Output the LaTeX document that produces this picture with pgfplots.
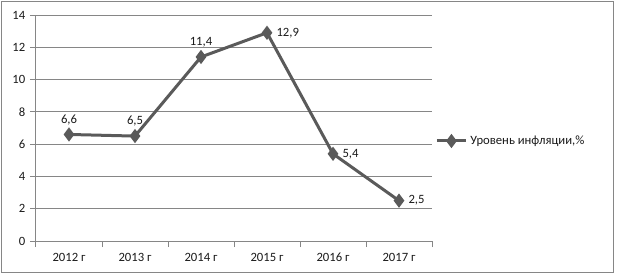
\documentclass[border=0pt]{standalone}
\usepackage{fontspec}
\setmainfont{Carlito}
\usepackage{pgfplots}
\pgfplotsset{compat=1.18}
\definecolor{linegray}{HTML}{5A5A5A}
\definecolor{gridgray}{HTML}{868686}
\definecolor{txt}{HTML}{1A1A1A}
\newcommand{\lblfont}{\fontsize{9.5}{11}\selectfont}
\begin{document}
\begin{tikzpicture}
\useasboundingbox (0pt,0pt) rectangle (462.75pt,207pt);
\draw[gridgray, line width=0.75pt] (0.75pt,3pt) rectangle (459.75pt,206.25pt);
\begin{axis}[
  at={(27pt,26.25pt)}, anchor=south west,
  scale only axis, width=297pt, height=169.5pt,
  xmin=0, xmax=6, ymin=0, ymax=14,
  axis lines=left, axis line style={-, gridgray, line width=0.75pt},
  ytick={0,2,...,14},
  ymajorgrids, major grid style={gridgray, line width=0.75pt},
  xtick={0,1,2,3,4,5,6},
  xticklabels={2012 г,2013 г,2014 г,2015 г,2016 г,2017 г,{}},
  xticklabel style={xshift=24.75pt, anchor=north, text height=7pt, text depth=2pt},
  tick align=outside,
  major tick length=4.5pt,
  tick style={gridgray, line width=0.75pt},
  ticklabel style={font=\lblfont, text=txt},
  /pgf/number format/assume math mode=true,
  clip=false,
  legend style={at={(1.0076,0.4425)}, anchor=west, draw=none, fill=none, font=\lblfont, text=txt, inner sep=0pt},
  legend cell align=left,
  legend image code/.code={\draw[mark repeat=2,mark phase=2,#1] plot coordinates {(0pt,0pt) (11pt,0pt) (22pt,0pt)};},
]
\addplot[linegray, line width=2.25pt, mark=diamond*, mark size=3.5pt, mark options={solid, fill=linegray},
  nodes near coords, point meta=explicit symbolic,
  visualization depends on={value \thisrow{pos} \as \lpos},
  every node near coord/.append style={anchor=\lpos, font=\lblfont, text=txt, inner sep=6pt}]
  table[x=x, y=y, meta=label] {
x   y    label pos
0.5 6.6  6,6   south
1.5 6.5  6,5   south
2.5 11.4 11,4  south
3.5 12.9 12,9  west
4.5 5.4  5,4   west
5.5 2.5  2,5   west
};
\addlegendentry{Уровень инфляции,\%}
\end{axis}
\end{tikzpicture}
\end{document}
